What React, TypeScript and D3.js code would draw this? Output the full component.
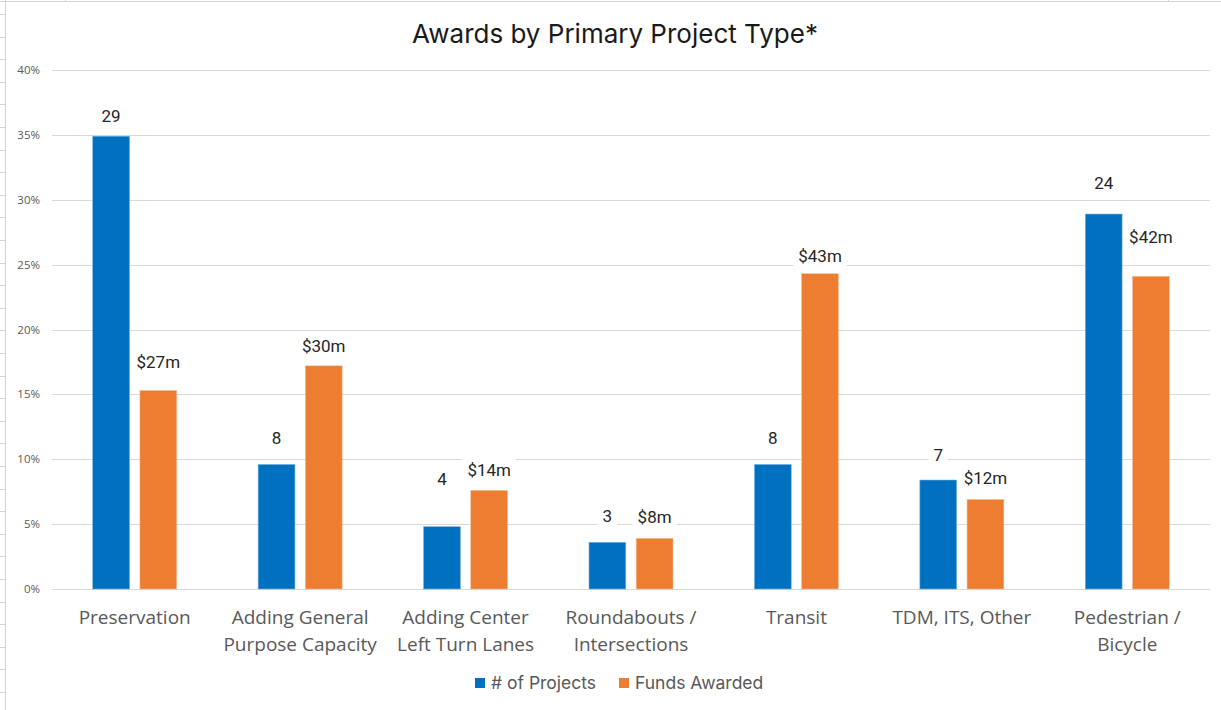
import React, { useEffect, useRef } from 'react';
import * as d3 from 'd3';

const categories = [
  'Preservation',
  'Adding General Purpose Capacity',
  'Adding Center Left Turn Lanes',
  'Roundabouts / Intersections',
  'Transit',
  'TDM, ITS, Other',
  'Pedestrian / Bicycle',
];
const categoryLines = [
  ['Preservation'],
  ['Adding General', 'Purpose Capacity'],
  ['Adding Center', 'Left Turn Lanes'],
  ['Roundabouts /', 'Intersections'],
  ['Transit'],
  ['TDM, ITS, Other'],
  ['Pedestrian /', 'Bicycle'],
];
const seriesNames = ['# of Projects', 'Funds Awarded'];
const projectShare = [0.349, 0.096, 0.048, 0.036, 0.096, 0.084, 0.289];
const projectLabels = ['29', '8', '4', '3', '8', '7', '24'];
const fundsShare = [0.153, 0.172, 0.076, 0.039, 0.243, 0.069, 0.241];
const fundsLabels = ['$27m', '$30m', '$14m', '$8m', '$43m', '$12m', '$42m'];
const yTicks = [0, 0.05, 0.1, 0.15, 0.2, 0.25, 0.3, 0.35, 0.4];

const colors = ['#0070C0', '#ED7D31'];
// extra lift for labels that were nudged upward in the original
const projectLift = [0, 6, 28, 6, 6, 5, 11];
const fundsLift = [8, 0, 0, 1, -2, 1, 19];

function App() {
  const svgRef = useRef<SVGSVGElement>(null);

  useEffect(() => {
    const svg = d3.select(svgRef.current);
    svg.selectAll('*').remove();

    const W = 1221;
    const H = 710;
    const left = 52;
    const right = 1210;

    svg.append('rect').attr('width', W).attr('height', H).attr('fill', '#fff');

    // spreadsheet grid peeking around the chart
    const sheet = svg.append('g').attr('stroke', '#d4d4d4').attr('stroke-width', 1);
    sheet.append('line').attr('x1', 0).attr('x2', W).attr('y1', 1.5).attr('y2', 1.5);
    sheet.append('line').attr('x1', 5.5).attr('x2', 5.5).attr('y1', 0).attr('y2', H);
    d3.range(14, H, 22.6).forEach((y) => {
      sheet.append('line').attr('x1', 0).attr('x2', 5).attr('y1', Math.round(y) + 0.5).attr('y2', Math.round(y) + 0.5);
    });
    [65.5, 1168.5].forEach((x) => {
      sheet.append('line').attr('x1', x).attr('x2', x).attr('y1', 0).attr('y2', 2);
    });

    const x0 = d3.scaleBand<string>().domain(categories).range([left, right]);
    const x1 = d3.scaleBand<string>().domain(seriesNames).range([0, 84]).paddingInner(0.22);
    const y = d3.scaleLinear().domain([0, 0.4]).range([589, 70]);

    // gridlines
    svg.append('g')
      .selectAll('line')
      .data(yTicks)
      .join('line')
      .attr('x1', left)
      .attr('x2', right)
      .attr('y1', (d) => Math.round(y(d)) + 0.5)
      .attr('y2', (d) => Math.round(y(d)) + 0.5)
      .attr('stroke', '#d9d9d9')
      .attr('stroke-width', 1);

    // y tick labels
    svg.append('g')
      .selectAll('text')
      .data(yTicks)
      .join('text')
      .attr('x', 40)
      .attr('y', (d) => y(d) + 4)
      .attr('text-anchor', 'end')
      .attr('font-family', 'Open Sans, sans-serif')
      .attr('font-size', 11.5)
      .attr('fill', '#595959')
      .text((d) => d3.format('.0%')(d));

    const series = [projectShare, fundsShare];
    const labels = [projectLabels, fundsLabels];
    const lifts = [projectLift, fundsLift];

    // data labels with white backing boxes (drawn under the bars)
    const labelG = svg.append('g');
    series.forEach((vals, si) => {
      vals.forEach((v, i) => {
        const cx = (x0(categories[i]) as number) + x0.bandwidth() / 2 - 42 + (x1(seriesNames[si]) as number) + x1.bandwidth() / 2;
        const by = y(v) - 14 - lifts[si][i];
        const g = labelG.append('g');
        const bg = g.append('rect').attr('fill', '#fff');
        const t = g.append('text')
          .attr('x', cx)
          .attr('y', by)
          .attr('text-anchor', 'middle')
          .attr('font-family', 'Roboto, Arial, sans-serif')
          .attr('font-size', 17)
          .attr('fill', '#262626')
          .text(labels[si][i]);
        const bb = (t.node() as SVGTextElement).getBBox();
        bg.attr('x', bb.x - 5).attr('y', bb.y - 2).attr('width', bb.width + 10).attr('height', bb.height + 4);
      });
    });

    // bars
    series.forEach((vals, si) => {
      svg.append('g')
        .selectAll('rect')
        .data(vals)
        .join('rect')
        .attr('x', (d, i) => (x0(categories[i]) as number) + x0.bandwidth() / 2 - 42 + (x1(seriesNames[si]) as number))
        .attr('y', (d) => y(d))
        .attr('width', x1.bandwidth())
        .attr('height', (d) => y(0) - y(d))
        .attr('fill', colors[si])
        .attr('stroke', si === 0 ? '#7fb3e0' : '#f6bd96')
        .attr('stroke-width', 0.6);
    });

    // category labels
    const catG = svg.append('g')
      .attr('font-family', 'Open Sans, sans-serif')
      .attr('font-size', 19)
      .attr('fill', '#595959')
      .attr('text-anchor', 'middle');
    categoryLines.forEach((lines, i) => {
      const cx = (x0(categories[i]) as number) + x0.bandwidth() / 2;
      lines.forEach((ln, li) => {
        catG.append('text').attr('x', cx).attr('y', 624 + li * 27).text(ln);
      });
    });

    // title
    svg.append('text')
      .attr('x', 615)
      .attr('y', 43)
      .attr('text-anchor', 'middle')
      .attr('font-family', 'Inter, sans-serif')
      .attr('font-size', 26)
      .attr('fill', '#1a1a1a')
      .text('Awards by Primary Project Type*');

    // legend
    const legendX = [475, 619];
    seriesNames.forEach((name, si) => {
      svg.append('rect')
        .attr('x', legendX[si])
        .attr('y', 678)
        .attr('width', 10)
        .attr('height', 10)
        .attr('fill', colors[si]);
      svg.append('text')
        .attr('x', legendX[si] + 16)
        .attr('y', 689)
        .attr('font-family', 'Inter, sans-serif')
        .attr('font-size', 17.5)
        .attr('fill', '#595959')
        .text(name);
    });
  }, []);

  return (
    <svg
      ref={svgRef}
      width={1221}
      height={710}
      style={{ position: 'absolute', left: 0, top: 0, display: 'block' }}
    />
  );
}

export default App;
